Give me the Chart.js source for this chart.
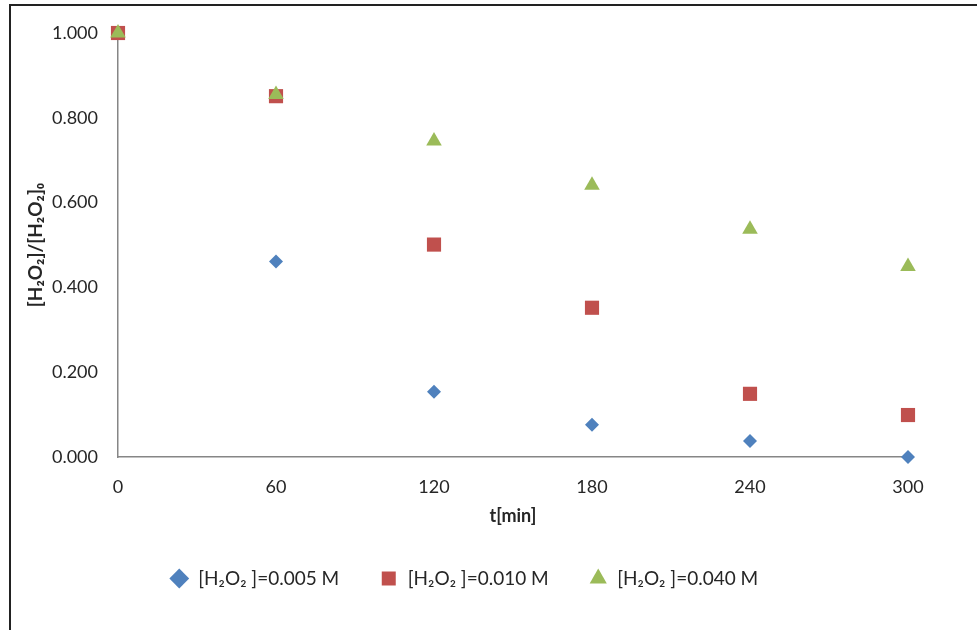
<!DOCTYPE html>
<html>
<head>
<meta charset="utf-8">
<script src="https://cdn.jsdelivr.net/npm/chart.js@4.4.1/dist/chart.umd.min.js"></script>
<style>
  html, body { margin: 0; padding: 0; background: #fff; }
  #wrap { position: relative; width: 977px; height: 630px; overflow: hidden; }
  #marco { position: absolute; left: 9px; top: 4px; width: 1000px; height: 700px;
           border: 2px solid #222; box-sizing: border-box; pointer-events: none; }
</style>
</head>
<body>
<div id="wrap">
  <canvas id="grafico" width="977" height="630"></canvas>
  <div id="marco"></div>
</div>
<script>
// Datos
const tiempos = [0, 60, 120, 180, 240, 300];
const serie005 = [1.000, 0.461, 0.154, 0.076, 0.038, 0.000];
const serie010 = [1.000, 0.851, 0.501, 0.352, 0.149, 0.099];
const serie040 = [1.000, 0.855, 0.745, 0.641, 0.537, 0.449];
const etiquetas = ['[H₂O₂ ]=0.005 M', '[H₂O₂ ]=0.010 M', '[H₂O₂ ]=0.040 M'];
const ticksX = [0, 60, 120, 180, 240, 300];
const ticksY = [0, 0.2, 0.4, 0.6, 0.8, 1.0];

const fuente = 'Lato, "Open Sans", sans-serif';

function puntos(serie) {
    return tiempos.map((t, i) => ({ x: t, y: serie[i] }));
}

const ctx = document.getElementById('grafico').getContext('2d');
const grafico = new Chart(ctx, {
    type: 'scatter',
    data: {
        datasets: [
            { label: etiquetas[0], data: puntos(serie005), pointStyle: 'rectRot', pointRadius: 7,
              backgroundColor: '#4F81BD', borderColor: '#4F81BD', borderWidth: 0, order: 2 },
            { label: etiquetas[1], data: puntos(serie010), pointStyle: 'rect', pointRadius: 10,
              backgroundColor: '#C0504D', borderColor: '#C0504D', borderWidth: 0, order: 1 },
            { label: etiquetas[2], data: puntos(serie040), pointStyle: 'triangle', pointRadius: 9,
              backgroundColor: '#9BBB59', borderColor: '#9BBB59', borderWidth: 0, order: 0 }
        ]
    },
    options: {
        responsive: false,
        animation: false,
        clip: false,
        layout: { padding: { left: 20, top: 33, right: 69, bottom: 32 } },
        plugins: {
            tooltip: { enabled: false },
            legend: {
                position: 'bottom',
                labels: {
                    usePointStyle: true,
                    boxHeight: 14,
                    padding: 40,
                    color: '#262626',
                    font: { family: fuente, size: 19 },
                    sort: (a, b) => a.datasetIndex - b.datasetIndex
                }
            }
        },
        scales: {
            x: {
                type: 'linear',
                min: 0,
                max: 300,
                afterFit: (escala) => { escala.height = 72; },
                afterBuildTicks: (escala) => { escala.ticks = ticksX.map(v => ({ value: v })); },
                grid: { display: false },
                border: { display: true, color: '#868686', width: 1.5 },
                ticks: { padding: 11, color: '#262626', font: { family: fuente, size: 18 } },
                title: { display: true, text: 't[min]', color: '#262626', padding: { top: 0, bottom: 2 },
                         font: { family: fuente, size: 18, weight: 'bold' } }
            },
            y: {
                min: 0,
                max: 1,
                afterFit: (escala) => { escala.width = 98; },
                afterBuildTicks: (escala) => { escala.ticks = ticksY.map(v => ({ value: v })); },
                grid: { display: false },
                border: { display: true, color: '#868686', width: 1.5 },
                ticks: { padding: 12, color: '#262626', font: { family: fuente, size: 18 },
                         callback: (v) => v.toFixed(3) },
                title: { display: true, text: '[H₂O₂]/[H₂O₂]₀', color: '#262626', padding: { top: 4 },
                         font: { family: fuente, size: 19, weight: 'bold' } }
            }
        }
    }
});
</script>
</body>
</html>
